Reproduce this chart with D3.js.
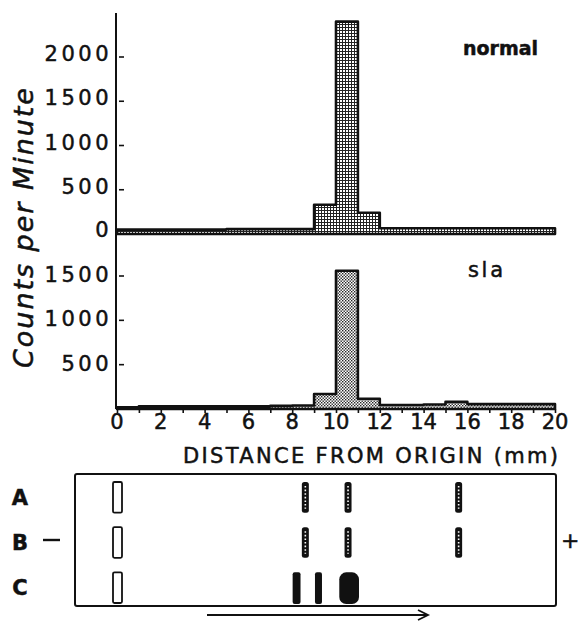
<!DOCTYPE html>
<html>
<head>
<meta charset="utf-8">
<script src="https://cdn.jsdelivr.net/npm/d3@7"></script>
<style>
  body { margin: 0; background: #fff; }
  svg { display: block; }
  text { font-family: "DejaVu Sans", sans-serif; fill: #111; stroke: #111; stroke-width: 0.5px; }
</style>
</head>
<body>
<div id="chart"></div>
<script>
// bins are 1 mm wide, starting at these distances from origin
var binStart = [0,1,2,3,4,5,6,7,8,9,10,11,12,13,14,15,16,17,18,19];
var normalCpm = [50,50,50,50,50,55,55,55,55,330,2400,240,65,65,65,65,65,65,65,65];
var slaCpm = [20,30,30,30,30,30,30,35,40,170,1560,115,45,45,50,80,55,55,55,55];

var topTicks = [0,500,1000,1500,2000];
var botTicks = [500,1000,1500];
var xTickLabels = [0,2,4,6,8,10,12,14,16,18,20];

// electrophoresis strip (band positions in mm)
var lanes = ["A","B","C"];
var originMm = 0;
var laneABands = [8.6, 10.55, 15.6];
var laneBBands = [8.6, 10.55, 15.6];
var laneCBands = [8.2, 9.2, 10.6];
var laneCWidths = [0.36, 0.32, 0.9];

var W = 579, H = 621;
var svg = d3.select("#chart").append("svg")
  .attr("width", W).attr("height", H);

var defs = svg.append("defs");
// grid stipple for the top histogram
var p1 = defs.append("pattern").attr("id","gridFill")
  .attr("width",3).attr("height",3).attr("patternUnits","userSpaceOnUse");
p1.append("rect").attr("width",3).attr("height",3).attr("fill","#fff");
p1.append("rect").attr("width",3).attr("height",1).attr("fill","#222");
p1.append("rect").attr("width",1).attr("height",3).attr("fill","#222");
// dot stipple for the bottom one
var p2 = defs.append("pattern").attr("id","dotFill")
  .attr("width",3).attr("height",3).attr("patternUnits","userSpaceOnUse");
p2.append("rect").attr("width",3).attr("height",3).attr("fill","#fff");
p2.append("rect").attr("x",0).attr("y",0).attr("width",1.4).attr("height",1.4).attr("fill","#222");
p2.append("rect").attr("x",1.5).attr("y",1.5).attr("width",1.4).attr("height",1.4).attr("fill","#222");

var x = d3.scaleLinear().domain([0,20]).range([117,555]);
var yTop = d3.scaleLinear().domain([0,2000]).range([234,57]);
var yBot = d3.scaleLinear().domain([0,1500]).range([409,276]);

// step outline of a histogram
function histPath(vals, y) {
  var p = d3.path();
  p.moveTo(x(0), y(0));
  vals.forEach(function(v, i) {
    p.lineTo(x(binStart[i]), y(v));
    p.lineTo(x(binStart[i] + 1), y(v));
  });
  p.lineTo(x(20), y(0));
  p.closePath();
  return p.toString();
}

svg.append("path")
  .attr("d", histPath(normalCpm, yTop))
  .attr("fill","url(#gridFill)")
  .attr("stroke","#111").attr("stroke-width",2.6)
  .attr("stroke-linejoin","round");

svg.append("path")
  .attr("d", histPath(slaCpm, yBot))
  .attr("fill","url(#dotFill)")
  .attr("stroke","#111").attr("stroke-width",2.6)
  .attr("stroke-linejoin","round");

// vertical axis line shared by both panels
svg.append("line")
  .attr("x1",116).attr("x2",116).attr("y1",13).attr("y2",yBot(0))
  .attr("stroke","#111").attr("stroke-width",2);

// y ticks, top panel
topTicks.forEach(function(t) {
  if (t > 0) {
    svg.append("line")
      .attr("x1",119).attr("x2",124).attr("y1",yTop(t)).attr("y2",yTop(t))
      .attr("stroke","#111").attr("stroke-width",1.6);
  }
  svg.append("text")
    .attr("x",112).attr("y",yTop(t) + (t == 0 ? 3 : 4))
    .attr("text-anchor","end")
    .attr("font-size",21).attr("letter-spacing",3.5)
    .text(t);
});

// y ticks, bottom panel
botTicks.forEach(function(t) {
  svg.append("line")
    .attr("x1",119).attr("x2",124).attr("y1",yBot(t)).attr("y2",yBot(t))
    .attr("stroke","#111").attr("stroke-width",1.6);
  svg.append("text")
    .attr("x",112).attr("y",yBot(t) + 6)
    .attr("text-anchor","end")
    .attr("font-size",21).attr("letter-spacing",3.5)
    .text(t);
});

// x axis (bottom panel)
var xAxis = d3.axisBottom(x).tickValues(d3.range(0,21,1)).tickSize(4).tickFormat("");
var gx = svg.append("g")
  .attr("transform","translate(0," + yBot(0) + ")")
  .call(xAxis);
gx.select(".domain").remove();
gx.selectAll(".tick line").attr("stroke","#111").attr("stroke-width",1.6);

xTickLabels.forEach(function(t) {
  svg.append("text")
    .attr("x", x(t)).attr("y", 429)
    .attr("text-anchor","middle")
    .attr("font-size",21)
    .text(t);
});

svg.append("text")
  .attr("x",183).attr("y",463)
  .attr("font-size",21)
  .attr("textLength",375).attr("lengthAdjust","spacing")
  .text("DISTANCE FROM ORIGIN (mm)");

svg.append("text")
  .attr("transform","translate(33,368) rotate(-90)")
  .attr("font-size",27).attr("font-style","italic")
  .attr("textLength",280).attr("lengthAdjust","spacing")
  .text("Counts per Minute");

svg.append("text")
  .attr("x",463).attr("y",55)
  .attr("font-size",19).attr("font-weight","bold")
  .attr("textLength",75).attr("lengthAdjust","spacingAndGlyphs")
  .text("normal");

svg.append("text")
  .attr("x",468).attr("y",277)
  .attr("font-size",21)
  .attr("textLength",35).attr("lengthAdjust","spacing")
  .text("sla");

// ---- electrophoresis strip ----
svg.append("rect")
  .attr("x",75).attr("y",474).attr("width",481).attr("height",132)
  .attr("rx",2)
  .attr("fill","none").attr("stroke","#111").attr("stroke-width",2);

var laneY = d3.scaleBand().domain(lanes).range([481,603]).paddingInner(0.3);

lanes.forEach(function(l) {
  svg.append("text")
    .attr("x",20).attr("y",laneY(l) + laneY.bandwidth()/2 + 8)
    .attr("text-anchor","middle")
    .attr("font-size",21).attr("font-weight","bold")
    .text(l);
  // origin slot
  svg.append("rect")
    .attr("x", x(originMm) - 4).attr("y", laneY(l) + 1)
    .attr("width",9).attr("height",laneY.bandwidth() - 1)
    .attr("rx",1.5)
    .attr("fill","#fff").attr("stroke","#111").attr("stroke-width",1.8);
});

// stippled bands of lanes A and B
[["A", laneABands], ["B", laneBBands]].forEach(function(row) {
  row[1].forEach(function(mm) {
    svg.append("rect")
      .attr("x", x(mm) - 3.5).attr("y", laneY(row[0]) + 1)
      .attr("width",7).attr("height",laneY.bandwidth() - 1)
      .attr("rx",2.5).attr("fill","#111");
    svg.append("line")
      .attr("x1", x(mm)).attr("x2", x(mm))
      .attr("y1", laneY(row[0]) + 5).attr("y2", laneY(row[0]) + laneY.bandwidth() - 4)
      .attr("stroke","#fff").attr("stroke-width",1.6)
      .attr("stroke-dasharray","1.6,2");
  });
});

// solid bands of lane C
laneCBands.forEach(function(mm, i) {
  var w = x(laneCWidths[i]) - x(0);
  svg.append("rect")
    .attr("x", x(mm) - w/2).attr("y", laneY("C") + 1)
    .attr("width", w).attr("height", laneY.bandwidth())
    .attr("rx", i == 2 ? 7 : 2)
    .attr("fill","#111");
});

// electrode signs
svg.append("line")
  .attr("x1",43).attr("x2",60).attr("y1",540).attr("y2",540)
  .attr("stroke","#111").attr("stroke-width",2.4);
svg.append("text")
  .attr("x",561).attr("y",548)
  .attr("font-size",22)
  .text("+");

// direction arrow
svg.append("line")
  .attr("x1",207).attr("x2",428).attr("y1",615).attr("y2",615)
  .attr("stroke","#111").attr("stroke-width",1.8);
svg.append("path")
  .attr("d","M418,610 L428,615 L418,620")
  .attr("fill","none").attr("stroke","#111").attr("stroke-width",1.8);
</script>
</body>
</html>
